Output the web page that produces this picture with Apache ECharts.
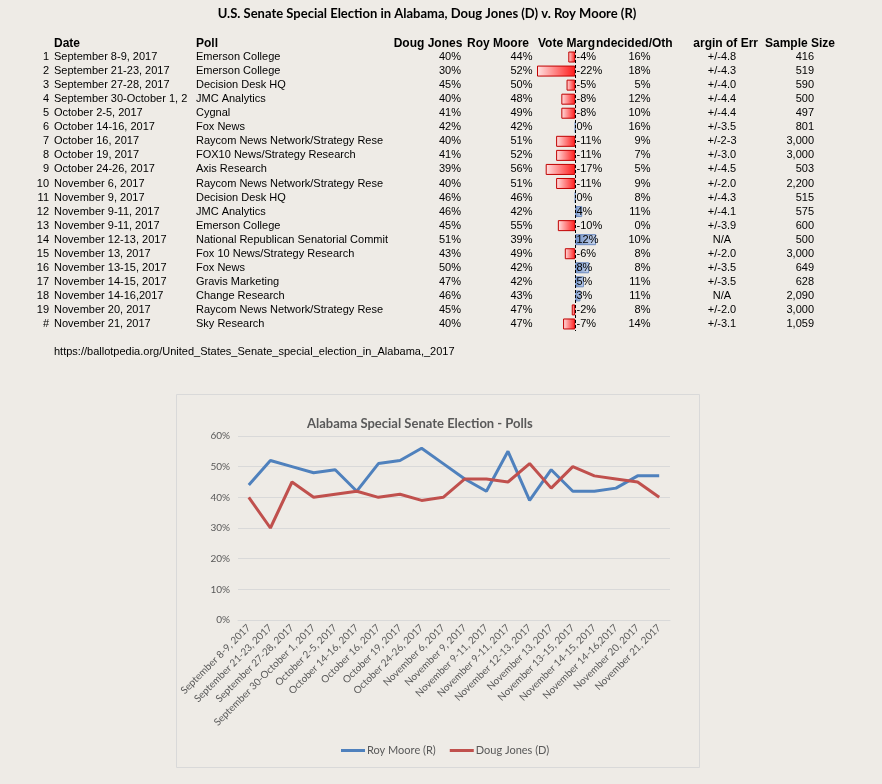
<!DOCTYPE html>
<html><head><meta charset="utf-8">
<script src="https://cdn.jsdelivr.net/npm/echarts@6/dist/echarts.min.js"></script>
<style>html,body{margin:0;padding:0;background:#EEEBE6;}#c{width:882px;height:784px;}</style>
</head><body><div id="c"></div>
<script>
// ---------------- data ----------------
const rowLabels = ['1','2','3','4','5','6','7','8','9','10','11','12','13','14','15','16','17','18','19','#'];
const dates = ['September 8-9, 2017','September 21-23, 2017','September 27-28, 2017','September 30-October 1, 2017','October 2-5, 2017','October 14-16, 2017','October 16, 2017','October 19, 2017','October 24-26, 2017','November 6, 2017','November 9, 2017','November 9-11, 2017','November 9-11, 2017','November 12-13, 2017','November 13, 2017','November 13-15, 2017','November 14-15, 2017','November 14-16,2017','November 20, 2017','November 21, 2017'];
const polls = ['Emerson College','Emerson College','Decision Desk HQ','JMC Analytics','Cygnal','Fox News','Raycom News Network/Strategy Research','FOX10 News/Strategy Research','Axis Research','Raycom News Network/Strategy Research','Decision Desk HQ','JMC Analytics','Emerson College','National Republican Senatorial Committee','Fox 10 News/Strategy Research','Fox News','Gravis Marketing','Change Research','Raycom News Network/Strategy Research','Sky Research'];
const dougJones = [40,30,45,40,41,42,40,41,39,40,46,46,45,51,43,50,47,46,45,40];
const royMoore = [44,52,50,48,49,42,51,52,56,51,46,42,55,39,49,42,42,43,47,47];
const voteMargin = [-4,-22,-5,-8,-8,0,-11,-11,-17,-11,0,4,-10,12,-6,8,5,3,-2,-7];
const undecided = [16,18,5,12,10,16,9,7,5,9,8,11,0,10,8,8,11,11,8,14];
const marginOfError = ['+/-4.8','+/-4.3','+/-4.0','+/-4.4','+/-4.4','+/-3.5','+/-2-3','+/-3.0','+/-4.5','+/-2.0','+/-4.3','+/-4.1','+/-3.9','N/A','+/-2.0','+/-3.5','+/-3.5','N/A','+/-2.0','+/-3.1'];
const sampleSize = ['416','519','590','500','497','801','3,000','3,000','503','2,200','515','575','600','500','3,000','649','628','2,090','3,000','1,059'];
const headers = ['Date','Poll','Doug Jones','Roy Moore','Vote Marg','ndecided/Oth','argin of Err','Sample Size'];
const yTicks = [0,10,20,30,40,50,60];
const pageTitle = 'U.S. Senate Special Election in Alabama, Doug Jones (D) v. Roy Moore (R)';
const chartTitle = 'Alabama Special Senate Election - Polls';
const sourceUrl = 'https://ballotpedia.org/United_States_Senate_special_election_in_Alabama,_2017';
const seriesNames = ['Roy Moore (R)','Doug Jones (D)'];

// ---------------- layout ----------------
const G0L = 537, G0W = 73, G0T = 50, G0H = 281;
const tFont = 'Liberation Sans';
const chart = echarts.init(document.getElementById('c'));

function col(data, anchorX, align, extra) {
  return Object.assign({
    type: 'category', gridIndex: 0, position: 'left', inverse: true,
    offset: G0L - anchorX, data: data, z: 5,
    axisLine: {show: false, onZero: false}, axisTick: {show: false}, splitLine: {show: false},
    axisLabel: Object.assign({margin: 0, align: align, interval: 0, fontSize: 11, fontFamily: tFont, color: '#000'}, extra || {})
  });
}

const redGrad = new echarts.graphic.LinearGradient(0, 0, 1, 0, [{offset: 0, color: '#FFE3E3'}, {offset: 1, color: '#FF1A1A'}]);
const blueGrad = new echarts.graphic.LinearGradient(0, 0, 1, 0, [{offset: 0, color: '#6F8FC6'}, {offset: 1, color: '#C9D6EC'}]);

const barData = voteMargin.map(v => ({
  value: v,
  itemStyle: v < 0 ? {color: redGrad, borderColor: '#C00000', borderWidth: 1}
                   : {color: blueGrad, borderColor: '#6D8CC2', borderWidth: 1}
}));

const headerX = [54, 196, 428, 498, 538, 596, 758, 800];
const headerAlign = ['left','left','center','center','left','left','right','center'];

const option = {
  backgroundColor: '#EEEBE6',
  animation: false,
  grid: [
    {left: G0L, top: G0T, width: G0W, height: G0H},
    {left: 238, top: 436, width: 432, height: 184}
  ],
  xAxis: [
    {type: 'value', gridIndex: 0, min: -22, max: 20, show: false},
    {type: 'category', gridIndex: 1, data: dates, boundaryGap: true,
     axisTick: {show: false}, axisLine: {lineStyle: {color: '#D9D9D9'}},
     axisLabel: {rotate: 45, interval: 0, fontSize: 10, fontFamily: 'Lato', color: '#595959', margin: 6}}
  ],
  yAxis: [
    {type: 'category', gridIndex: 0, inverse: true, data: rowLabels, show: false},
    col(rowLabels, 49, 'right'),
    col(dates, 54, 'left', {width: 141, overflow: 'truncate', ellipsis: ''}),
    col(polls, 196, 'left', {width: 193, overflow: 'truncate', ellipsis: ''}),
    col(dougJones.map(v => v + '%'), 461, 'right'),
    col(royMoore.map(v => v + '%'), 532.5, 'right'),
    col(voteMargin.map(v => v + '%'), 576.5, 'left'),
    col(undecided.map(v => v + '%'), 650.5, 'right'),
    col(marginOfError, 722, 'center'),
    col(sampleSize, 814, 'right'),
    {type: 'value', gridIndex: 1, min: 0, max: 60, interval: 10,
     axisLine: {show: false}, axisTick: {show: false},
     splitLine: {lineStyle: {color: '#D9D9D9'}},
     axisLabel: {formatter: '{value}%', fontSize: 10, fontFamily: 'Lato', color: '#595959', margin: 8}}
  ],
  legend: {
    data: seriesNames, left: 336, top: 740, icon: 'rect', itemWidth: 24, itemHeight: 3, itemGap: 14,
    textStyle: {fontSize: 11, fontFamily: 'Lato', color: '#595959', padding: [0, 0, 0, -3]}
  },
  title: {
    text: chartTitle, left: 302, top: 412,
    textStyle: {fontSize: 13, fontWeight: 'bold', fontFamily: 'Lato', color: '#595959'}
  },
  series: [
    {type: 'bar', xAxisIndex: 0, yAxisIndex: 0, data: barData, barWidth: 11, z: 2,
     markLine: {silent: true, symbol: 'none', label: {show: false},
       lineStyle: {color: '#000', type: [3, 2], width: 1}, data: [{xAxis: 0}]}},
    {name: seriesNames[0], type: 'line', xAxisIndex: 1, yAxisIndex: 10, data: royMoore,
     showSymbol: false, symbol: 'none', lineStyle: {width: 3, color: '#4F81BD'}, itemStyle: {color: '#4F81BD'}},
    {name: seriesNames[1], type: 'line', xAxisIndex: 1, yAxisIndex: 10, data: dougJones,
     showSymbol: false, symbol: 'none', lineStyle: {width: 3, color: '#C0504D'}, itemStyle: {color: '#C0504D'}}
  ],
  graphic: [
    {type: 'rect', z: -1, shape: {x: 176.5, y: 394.5, width: 523, height: 373},
     style: {fill: 'none', stroke: '#D9D9D9', lineWidth: 1}},
    {type: 'text', x: 427, y: 14, style: {text: pageTitle, textAlign: 'center', textVerticalAlign: 'middle',
      font: 'bold 13px Lato', fill: '#000'}},
    {type: 'text', x: 54, y: 352, style: {text: sourceUrl, textAlign: 'left', textVerticalAlign: 'middle',
      font: '11px "Liberation Sans"', fill: '#000'}}
  ].concat(headers.map((h, i) => ({
    type: 'text', x: headerX[i], y: 44,
    style: {text: h, textAlign: headerAlign[i], textVerticalAlign: 'middle', font: 'bold 12px "Liberation Sans"', fill: '#000'}
  })))
};
chart.setOption(option);
</script></body></html>
